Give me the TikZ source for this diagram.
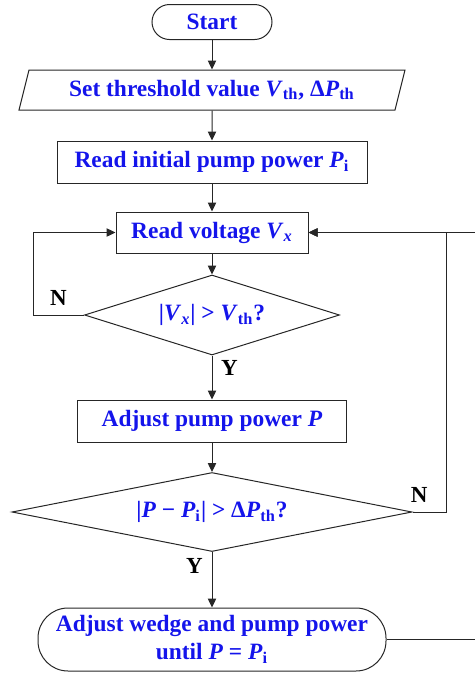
\documentclass[tikz,border=0pt]{standalone}
\usepackage{fontspec}
\setmainfont{Liberation Serif}
\usetikzlibrary{shapes.geometric, arrows.meta}
\definecolor{txtblue}{RGB}{20,20,235}
\newcommand{\bi}[1]{\textbf{\textit{#1}}}
\tikzstyle{terminal} = [rectangle, rounded corners=8.75pt, minimum width=60pt, minimum height=17.5pt, inner sep=0pt, text centered, draw=black!85]
\tikzstyle{io} = [trapezium, trapezium left angle=63.4, trapezium right angle=116.6, trapezium stretches body, minimum width=193pt, minimum height=20pt, inner sep=0pt, text centered, draw=black!85]
\tikzstyle{process} = [rectangle, minimum height=21pt, inner sep=0pt, text centered, draw=black!85]
\tikzstyle{decision} = [diamond, aspect=5, inner sep=0pt, text centered, draw=black!85]
\tikzstyle{arrow} = [line width=0.5pt, draw=black!85, -{Triangle[length=4.5pt, width=4.2pt]}]
\tikzstyle{answer} = [font=\fontsize{11.5}{13}\selectfont\bfseries, text=black]

\begin{document}
\begin{tikzpicture}[line width=0.5pt, font=\fontsize{11.7}{14}\selectfont\bfseries, text=txtblue]
    \useasboundingbox (0,0) rectangle (237.5pt,-338pt);
    \node (start) [terminal] at (106pt,-11pt) {Start};
    \node (thresh) [io, node distance=34pt, below of=start] {Set threshold value \bi{V}\textsubscript{th}, Δ\bi{P}\textsubscript{th}};
    \node (initp) [process, minimum width=155pt, node distance=36pt, below of=thresh] {Read initial pump power \bi{P}\textsubscript{i}};
    \node (volt) [process, minimum width=96pt, minimum height=20.5pt, node distance=35.25pt, below of=initp] {Read voltage \bi{V}\textsubscript{\textit{x}}};
    \node (checkv) [decision, minimum width=127.5pt, minimum height=40pt, node distance=41.25pt, below of=volt] {|\bi{V}\textsubscript{\textit{x}}| > \bi{V}\textsubscript{th}?};
    \node (adjp) [process, minimum width=134.5pt, node distance=53pt, below of=checkv] {Adjust pump power \bi{P}};
    \node (checkp) [decision, minimum width=200pt, minimum height=39.5pt, node distance=45.5pt, below of=adjp] {|\bi{P} − \bi{P}\textsubscript{i}| > Δ\bi{P}\textsubscript{th}?};
    \node (wedge) [rectangle, rounded corners=15pt, minimum width=174pt, minimum height=31.5pt, inner sep=0pt, align=center, draw=black!85, node distance=63.75pt, below of=checkp] {Adjust wedge and pump power\\until \bi{P} = \bi{P}\textsubscript{i}};

    \draw [arrow] (start) -- (thresh);
    \draw [arrow] (thresh) -- (initp);
    \draw [arrow] (initp) -- (volt);
    \draw [arrow] (volt) -- (checkv);
    \draw [arrow] (checkv) -- node [answer, right, pos=0.28, xshift=1pt] {Y} (adjp);
    \draw [arrow] (adjp) -- (checkp);
    \draw [arrow] (checkp) -- node [answer, left, pos=0.25, xshift=-1pt] {Y} (wedge);
    \draw [arrow] (checkv.west) -- node [answer, above, yshift=1pt] {N} ++(-25.5pt,0) |- (volt.west);
    \draw [arrow] (checkp.east) -- node [answer, above, pos=0.2, yshift=1pt] {N} ++(17pt,0) |- (volt.east);
    \draw [arrow] (wedge.east) -- ++(60pt,0) |- (volt.east);
\end{tikzpicture}
\end{document}
